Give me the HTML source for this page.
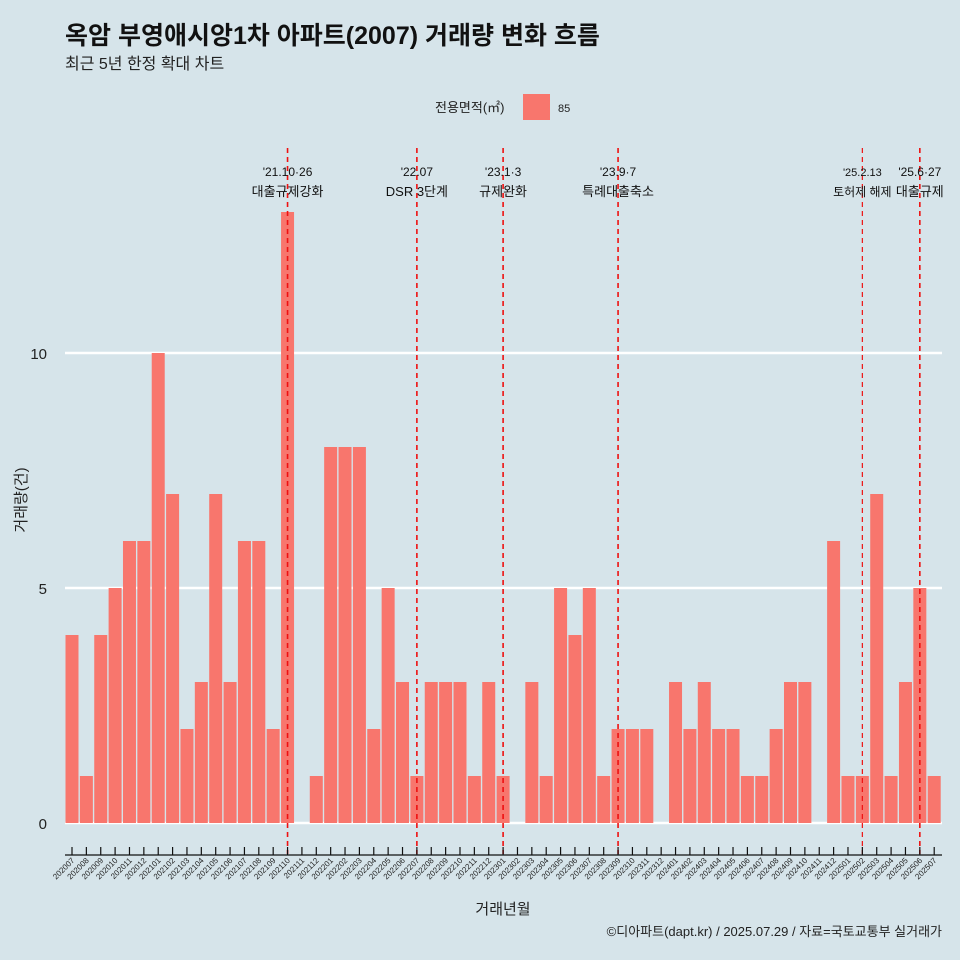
<!DOCTYPE html>
<html><head><meta charset="utf-8"><style>
body{margin:0;background:#d6e4ea;}
svg{display:block;font-family:"Liberation Sans","Noto Sans CJK KR",sans-serif;}
</style></head><body>
<svg id="c" width="960" height="960" viewBox="0 0 960 960">
<rect width="960" height="960" fill="#d6e4ea"/>
<text x="65" y="44" font-size="25" font-weight="bold" fill="#111">옥암 부영애시앙1차 아파트(2007) 거래량 변화 흐름</text>
<text x="65" y="69" font-size="16" fill="#222">최근 5년 한정 확대 차트</text>
<g>
<text x="435" y="112" font-size="13" fill="#222">전용면적(㎡)</text>
<rect x="523" y="94" width="27" height="26" fill="#f8766d"/>
<text x="558" y="112" font-size="11" fill="#222">85</text>
</g>
<g id="grid"></g><g id="bars"></g><g id="vl"></g><g id="xa"></g>
<text x="26" y="500" font-size="15" fill="#222" transform="rotate(-90 26 500)" text-anchor="middle">거래량(건)</text>
<text x="503" y="914" font-size="15" fill="#222" text-anchor="middle">거래년월</text>
<text x="942" y="936" font-size="13" fill="#222" text-anchor="end">©디아파트(dapt.kr) / 2025.07.29 / 자료=국토교통부 실거래가</text>
</svg>
<script>
const months=["202007","202008","202009","202010","202011","202012","202101","202102","202103","202104","202105","202106","202107","202108","202109","202110","202111","202112","202201","202202","202203","202204","202205","202206","202207","202208","202209","202210","202211","202212","202301","202302","202303","202304","202305","202306","202307","202308","202309","202310","202311","202312","202401","202402","202403","202404","202405","202406","202407","202408","202409","202410","202411","202412","202501","202502","202503","202504","202505","202506","202507"];
const counts=[4,1,4,5,6,6,10,7,2,3,7,3,6,6,2,13,0,1,8,8,8,2,5,3,1,3,3,3,1,3,1,0,3,1,5,4,5,1,2,2,2,0,3,2,3,2,2,1,1,2,3,3,0,6,1,1,7,1,3,5,1];
const yTicks=[0,5,10];
const eventMonths=["202110","202207","202301","202309","202502","202506"];
const eventDates=["'21.10·26","'22.07","'23.1·3","'23.9·7","'25.2.13","'25.6·27"];
const eventLabels=["대출규제강화","DSR 3단계","규제완화","특례대출축소","토허제 해제","대출규제"];
const NS="http://www.w3.org/2000/svg";
const x0=72,step=14.37,bw=13;
const xS=i=>x0+i*step;
const yS=v=>823-v*47;
function mk(p,t,a){const e=document.createElementNS(NS,t);for(const k in a)e.setAttribute(k,a[k]);p.appendChild(e);return e;}
const grid=document.getElementById('grid');
yTicks.forEach(v=>{
 const l=mk(grid,'line',{x1:65,x2:942,y1:yS(v),y2:yS(v),stroke:'#fff','stroke-width':2.5});
 
 
 const t=mk(grid,'text',{x:47,y:yS(v)+6,'font-size':15,fill:'#222','text-anchor':'end'});
 t.textContent=v;
 
 
});
const bars=document.getElementById('bars');
counts.forEach((v,i)=>{
 if(v<=0)return;
 const r=mk(bars,'rect',{x:xS(i)-bw/2,y:yS(v),width:bw,height:yS(0)-yS(v),fill:'#f8766d'});
 
 
});
const vl=document.getElementById('vl');
eventMonths.forEach((m,k)=>{
 const i=months.indexOf(m),x=xS(i);
 const l=mk(vl,'line',{x1:x,x2:x,y1:148,y2:854,stroke:'#ee1111','stroke-width':k==4?1.2:1.6,'stroke-dasharray':'5,4'});
 
 
 const fs=k==4?11:12;
 const d=mk(vl,'text',{x:x,y:176,'font-size':fs,fill:'#111','text-anchor':'middle'});
 d.textContent=eventDates[k];
 
 
 const t=mk(vl,'text',{x:x,y:196,'font-size':fs+1,fill:'#111','text-anchor':'middle'});
 t.textContent=eventLabels[k];
 
 
});
const xa=document.getElementById('xa');
const ax=mk(xa,'line',{x1:65,x2:942,y1:855,y2:855,stroke:'#111','stroke-width':1.2});


months.forEach((m,i)=>{
 const x=xS(i);
 const t=mk(xa,'line',{x1:x,x2:x,y1:847,y2:855,stroke:'#111','stroke-width':1.2});
 
 
 const lb=mk(xa,'text',{x:x+3,y:861,'font-size':8,fill:'#222','text-anchor':'end',transform:`rotate(-45 ${x+3} 861)`});
 lb.textContent=m;
 
 
});
</script>
</body></html>
